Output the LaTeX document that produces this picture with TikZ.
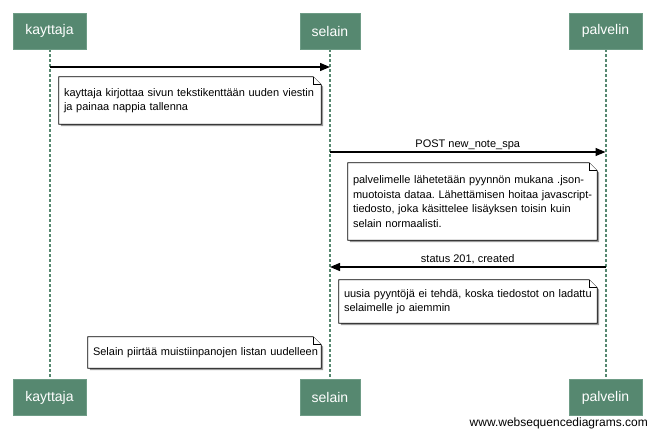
\documentclass[tikz,border=0pt]{standalone}
\usepackage{fontspec}
\setmainfont{Liberation Sans}
\usetikzlibrary{arrows.meta,calc,backgrounds}
\definecolor{actor}{HTML}{568870}
\definecolor{actorline}{HTML}{6E9C86}
\definecolor{shadowc}{HTML}{9A9A9A}
\newcommand\notedraw[1]{%
  \fill[shadowc] ($(#1.south west)+(2,2)$) -- ($(#1.north west)+(2,2)$) -- ($(#1.north east)+(-6,2)$) -- ($(#1.north east)+(2,10)$) -- ($(#1.south east)+(2,2)$) -- cycle;
  \filldraw[notefill] (#1.south west) -- (#1.north west) -- ($(#1.north east)+(-8,0)$) -- ($(#1.north east)+(0,8)$) -- (#1.south east) -- cycle;
  \draw[notefill] ($(#1.north east)+(-8,0)$) -- ($(#1.north east)+(-8,8)$) -- ($(#1.north east)+(0,8)$);
}
\newcommand\noteln[1]{\mbox{#1}}
\begin{document}
\frenchspacing
\begin{tikzpicture}[x=1pt,y=-1pt,
  actorbox/.style={fill=actor,draw=actorline,line width=0.8pt,text=white,
    font=\fontsize{14}{16}\selectfont,minimum height=36pt,inner sep=0pt},
  lifeline/.style={draw=actor,line width=2pt,dash pattern=on 3pt off 2pt},
  msg/.style={line width=1.3pt,-{Triangle[length=10pt,width=8pt]}},
  notebox/.style={align=left,font=\fontsize{11}{14.5}\selectfont,
    inner xsep=5pt,inner ysep=0pt},
  notefill/.style={fill=white,draw=black,line width=0.8pt},
  lbl/.style={font=\fontsize{11}{13}\selectfont,inner sep=0pt}]
\useasboundingbox (0,0) rectangle (654,436);

% participants
\node[actorbox,minimum width=73pt] (kt) at (49.5,31) {kayttaja};
\node[actorbox,minimum width=60pt] (st) at (330,31) {selain};
\node[actorbox,minimum width=73pt] (pt) at (605.5,31) {palvelin};
\node[actorbox,minimum width=73pt] (kb) at (49.5,397.5) {kayttaja};
\node[actorbox,minimum width=60pt] (sb) at (330,397.5) {selain};
\node[actorbox,minimum width=73pt] (pb) at (605.5,397.5) {palvelin};

% message rows
\coordinate (y1) at (0,67);
\coordinate (y2) at (0,152);
\coordinate (y3) at (0,267);

% notes
\node[notebox,text width=252pt,minimum height=47pt] (n1) at (190,100.5)
  {\noteln{kayttaja kirjottaa sivun tekstikenttään uuden viestin}\\\noteln{ja painaa nappia tallenna}};
\node[notebox,text width=239pt,minimum height=77pt] (n2) at (472.5,201.5)
  {\noteln{palvelimelle lähetetään pyynnön mukana .json-}\\\noteln{muotoista dataa. Lähettämisen hoitaa javascript-}\\\noteln{tiedosto, joka käsittelee lisäyksen toisin kuin}\\\noteln{selain normaalisti.}};
\node[notebox,text width=248pt,minimum height=43pt] (n3) at (468,301.5)
  {\noteln{uusia pyyntöjä ei tehdä, koska tiedostot on ladattu}\\\noteln{selaimelle jo aiemmin}};
\node[notebox,text width=223pt,minimum height=31pt] (n4) at (204.5,352.5)
  {\noteln{Selain piirtää muistiinpanojen listan uudelleen}};

\node[lbl,anchor=east,font=\fontsize{12}{14}\selectfont] (wm) at (648,423) {www.websequencediagrams.com};

\begin{pgfonlayer}{background}
  \fill[white] (0,0) rectangle (654,436);
  \draw[lifeline] (kt) -- (kb);
  \draw[lifeline] (st) -- (sb);
  \draw[lifeline] (pt) -- (pb);
  \notedraw{n1}
  \notedraw{n2}
  \notedraw{n3}
  \notedraw{n4}
\end{pgfonlayer}

% messages
\draw[msg] (kt |- y1) -- (st |- y1);
\draw[msg] (st |- y2) -- node[lbl,above=2pt] (l2) {POST new\_note\_spa} (pt |- y2);
\draw[msg] (pt |- y3) -- node[lbl,above=2pt] (l3) {status 201, created} (st |- y3);
\end{tikzpicture}
\end{document}
